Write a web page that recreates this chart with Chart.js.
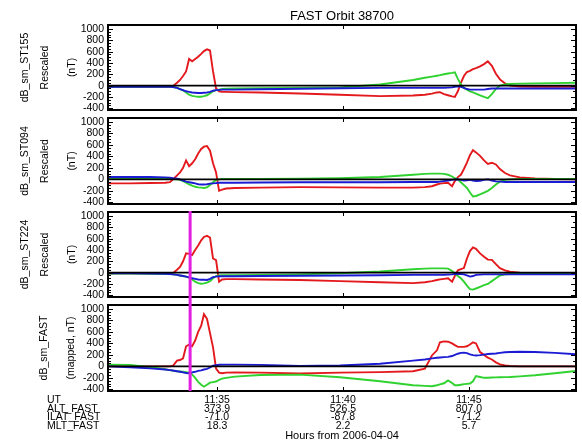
<!DOCTYPE html>
<html>
<head>
<meta charset="utf-8">
<title>FAST Orbit 38700</title>
<script src="https://cdn.jsdelivr.net/npm/chart.js@4.4.1/dist/chart.umd.min.js"></script>
<style>
    html, body { margin: 0; padding: 0; background: #fff; }
    #wrap { position: relative; width: 582px; height: 443px; overflow: hidden; }
    #wrap canvas { position: absolute; left: 0; top: 0; }
</style>
</head>
<body>
<div id="wrap">
    <canvas id="p1" width="582" height="443"></canvas>
    <canvas id="p2" width="582" height="443"></canvas>
    <canvas id="p3" width="582" height="443"></canvas>
    <canvas id="p4" width="582" height="443"></canvas>
</div>
<script>
// time, minutes after 11:30 UT
const tMin = [0.67, 1.55, 2.34, 2.94, 3.13, 3.25, 3.41, 3.53, 3.65, 3.77,
    3.89, 4.01, 4.13, 4.25, 4.37, 4.48, 4.60, 4.72, 4.84, 4.96,
    5.08, 5.20, 5.36, 5.71, 6.71, 8.29, 9.88, 11.47, 12.78, 13.25,
    13.53, 13.73, 13.85, 14.01, 14.17, 14.33, 14.44, 14.56, 14.68, 14.80,
    14.92, 15.04, 15.16, 15.28, 15.44, 15.60, 15.75, 15.91, 16.07, 16.23,
    16.43, 16.63, 17.02, 17.62, 18.41, 19.25];

// dB_sm_ST155
const red1 = [-20, -20, -25, -25, -20, -10, 50, 100, 170, 250, 470, 430, 470, 510, 560, 610, 640, 620, 250, -50,
    -100, -110, -110, -115, -120, -140, -160, -185, -175, -160, -140, -120, -115, -150, -170, -190, -200, -100, 50, 170,
    240, 260, 290, 310, 340, 380, 430, 350, 210, 110, 40, 0, -15, -20, -20, -20];
const green1 = [-20, -20, -20, -20, -20, -25, -40, -60, -85, -120, -160, -180, -190, -195, -195, -185, -170, -140, -100, -80,
    -70, -60, -55, -50, -45, -40, -30, 20, 100, 140, 160, 175, 185, 200, 215, 225, 235, 120, 20, -40,
    -70, -100, -120, -140, -170, -200, -220, -150, -60, 0, 20, 30, 35, 40, 45, 50];
const blue1 = [-20, -20, -20, -20, -20, -25, -40, -60, -80, -100, -110, -120, -125, -130, -130, -125, -120, -110, -90, -80,
    -75, -70, -70, -70, -65, -55, -45, -40, -40, -40, -40, -40, -40, -40, -35, -30, -20, -10, -20, -40,
    -60, -70, -70, -70, -70, -70, -60, -50, -50, -50, -50, -50, -50, -50, -50, -50];

// dB_sm_ST094
const red2 = [-70, -70, -65, -60, -50, 0, 70, 120, 200, 330, 230, 280, 350, 450, 530, 570, 580, 500, 280, 120,
    -200, -180, -160, -150, -145, -135, -140, -145, -145, -135, -120, -90, -75, -65, -60, -120, -30, 40, 80, 180,
    290, 420, 510, 470, 410, 330, 270, 290, 260, 180, 110, 70, 35, 15, 5, 0];
const green2 = [20, 20, 15, 10, 10, 5, 0, -10, -30, -60, -90, -110, -130, -140, -145, -150, -140, -100, -50, -10,
    0, 5, 5, 5, 5, 10, 20, 40, 80, 95, 100, 100, 100, 95, 80, 50, 20, 0, -50, -100,
    -150, -230, -300, -290, -260, -230, -200, -150, -90, -40, -10, 0, 5, 5, 5, 5];
const blue2 = [40, 40, 40, 35, 30, 20, 10, 0, -20, -40, -50, -60, -70, -85, -90, -90, -85, -75, -70, -65,
    -60, -60, -60, -60, -55, -50, -50, -50, -45, -45, -45, -45, -40, -30, -20, -10, -5, 0, -10, -20,
    -15, -10, -20, -30, -25, -10, 0, -20, -35, -40, -45, -45, -45, -45, -45, -45];

// dB_sm_ST224
const red3 = [-10, -10, -15, -20, -20, -10, 50, 100, 200, 340, 330, 310, 400, 480, 570, 630, 650, 620, 250, 220,
    -160, -120, -115, -115, -120, -130, -150, -170, -185, -170, -150, -130, -120, -110, -100, -160, -60, 40, 60, 80,
    250, 380, 445, 420, 340, 280, 230, 225, 150, 80, 40, 15, 0, -5, -10, -10];
const green3 = [-15, -15, -20, -25, -25, -30, -40, -50, -60, -70, -90, -120, -160, -185, -195, -190, -175, -150, -100, -60,
    -50, -45, -45, -45, -40, -30, -10, 20, 60, 70, 75, 75, 75, 75, 70, 30, -20, -60, -100, -160,
    -230, -290, -300, -280, -250, -220, -200, -150, -100, -50, -30, -25, -25, -25, -25, -25];
const blue3 = [-10, -10, -15, -20, -25, -30, -40, -50, -60, -70, -85, -100, -110, -120, -125, -125, -130, -110, -80, -70,
    -65, -65, -65, -65, -60, -55, -50, -45, -40, -40, -40, -40, -40, -40, -35, -30, -25, -20, -25, -30,
    -50, -70, -60, -40, -35, -30, -30, -30, -30, -30, -30, -30, -30, -30, -30, -30];

// dB_sm_FAST (mapped)
const red4 = [0, 0, 0, 0, 0, 10, 100, 110, 140, 350, 380, 350, 450, 600, 710, 910, 830, 580, 330, -40,
    -110, -120, -110, -105, -110, -125, -110, -100, -85, -40, 190, 280, 420, 435, 430, 400, 370, 340, 340, 340,
    350, 380, 420, 400, 250, 200, 150, 120, 70, 35, 15, 5, 0, 0, 0, 0];
const green4 = [30, 25, -15, -50, -65, -76, -85, -90, -95, -100, -110, -140, -200, -270, -320, -355, -320, -285, -275, -265,
    -235, -215, -200, -180, -150, -145, -190, -260, -330, -340, -348, -330, -315, -295, -245, -290, -330, -330, -320, -310,
    -305, -300, -260, -170, -185, -200, -200, -195, -192, -190, -188, -186, -175, -155, -120, -82];
const blue4 = [0, -15, -35, -55, -65, -72, -85, -95, -105, -115, -120, -105, -95, -80, -70, -55, -45, -20, 10, 20,
    28, 30, 30, 30, 25, 5, 15, 45, 100, 120, 140, 150, 155, 160, 165, 180, 200, 220, 235, 240,
    230, 210, 195, 190, 195, 205, 215, 220, 225, 235, 245, 250, 255, 250, 235, 210];

// axis ticks and labels
const yTicks = [-400, -200, 0, 200, 400, 600, 800, 1000];
const utTicks = [5, 10, 15];
const utLabels = ['11:35', '11:40', '11:45'];
const altLabels = ['373.9', '526.5', '807.0'];
const ilatLabels = ['-71.0', '-87.8', '-71.2'];
const mltLabels = ['18.3', '2.2', '5.7'];
const rowNames = ['UT', 'ALT_FAST', 'ILAT_FAST', 'MLT_FAST'];
const markerTime = 3.93;

const RED = '#e3191d';
const GREEN = '#2fd22f';
const BLUE = '#1b1bd4';
const MAGENTA = '#e21fe2';
const FONT = "'Liberation Sans', Arial, Helvetica, sans-serif";

Chart.defaults.font.family = FONT;
Chart.defaults.font.size = 10.5;
Chart.defaults.color = '#000';

const H = 443;
const bandTop = [25, 118, 212, 305];
const bandBottom = [110, 204, 297, 391];

const panels = [
    { id: 'p1', red: red1, green: green1, blue: blue1, names: ['dB_sm_ST155', 'Rescaled', '(nT)'], nameX: [25, 45.5, 72] },
    { id: 'p2', red: red2, green: green2, blue: blue2, names: ['dB_sm_ST094', 'Rescaled', '(nT)'], nameX: [25, 45.5, 72] },
    { id: 'p3', red: red3, green: green3, blue: blue3, names: ['dB_sm_ST224', 'Rescaled', '(nT)'], nameX: [25, 45.5, 72] },
    { id: 'p4', red: red4, green: green4, blue: blue4, names: ['dB_sm_FAST', '(mapped, nT)'], nameX: [44.5, 71.5] }
];

function pts(vals) {
    return vals.map((v, i) => ({ x: tMin[i], y: v }));
}

// box, zero line and inward tick marks
const framePlugin = {
    id: 'frame',
    afterDatasetsDraw(chart) {
        const { ctx, chartArea: a } = chart;
        const x = chart.scales.x, y = chart.scales.y;
        ctx.save();
        ctx.strokeStyle = '#000';
        ctx.lineWidth = 1.8;
        const y0 = y.getPixelForValue(0);
        ctx.beginPath(); ctx.moveTo(a.left, y0); ctx.lineTo(a.right, y0); ctx.stroke();

        ctx.lineWidth = 1;
        for (let v = -400; v <= 1000; v += 50) {
            const py = Math.round(y.getPixelForValue(v)) + 0.5;
            const major = v % 200 === 0;
            ctx.beginPath(); ctx.moveTo(a.left, py); ctx.lineTo(a.left + (major ? 5 : 3), py); ctx.stroke();
            if (v % 100 === 0) {
                ctx.beginPath(); ctx.moveTo(a.right, py); ctx.lineTo(a.right - (major ? 5 : 3), py); ctx.stroke();
            }
        }
        utTicks.forEach(t => {
            const px = Math.round(x.getPixelForValue(t)) + 0.5;
            ctx.beginPath(); ctx.moveTo(px, a.top); ctx.lineTo(px, a.top + 4); ctx.stroke();
            ctx.beginPath(); ctx.moveTo(px, a.bottom); ctx.lineTo(px, a.bottom - 4); ctx.stroke();
        });

        ctx.lineWidth = 2;
        ctx.strokeRect(a.left, a.top, a.right - a.left, a.bottom - a.top);
        ctx.restore();
    }
};

// magenta time marker
const markerPlugin = {
    id: 'marker',
    afterDraw(chart, args, opts) {
        if (!opts.show) return;
        const { ctx, chartArea: a } = chart;
        const px = chart.scales.x.getPixelForValue(markerTime);
        ctx.save();
        ctx.strokeStyle = MAGENTA;
        ctx.lineWidth = 3;
        ctx.beginPath();
        ctx.moveTo(px, a.top - 1);
        ctx.lineTo(px, a.bottom + opts.extend);
        ctx.stroke();
        ctx.restore();
    }
};

// rotated panel names on the left
const namesPlugin = {
    id: 'names',
    afterDraw(chart, args, opts) {
        const { ctx, chartArea: a } = chart;
        const cy = (a.top + a.bottom) / 2;
        ctx.save();
        ctx.fillStyle = '#000';
        ctx.font = '10.5px ' + FONT;
        ctx.textAlign = 'center';
        ctx.textBaseline = 'middle';
        opts.lines.forEach((txt, i) => {
            ctx.save();
            ctx.translate(opts.xs[i], cy);
            ctx.rotate(-Math.PI / 2);
            ctx.fillText(txt, 0, 0);
            ctx.restore();
        });
        ctx.restore();
    }
};

// row names under the last panel
const rowPlugin = {
    id: 'rows',
    afterDraw(chart, args, opts) {
        if (!opts.show) return;
        const { ctx } = chart;
        const x = chart.scales.x;
        const f = x.options.ticks.font;
        const lh = f.size * f.lineHeight;
        ctx.save();
        ctx.fillStyle = '#000';
        ctx.font = f.size + 'px ' + FONT;
        ctx.textAlign = 'left';
        ctx.textBaseline = 'middle';
        rowNames.forEach((txt, i) => {
            ctx.fillText(txt, 47, x.top + x.options.ticks.padding + lh * (i + 0.5));
        });
        ctx.restore();
    }
};

panels.forEach((p, i) => {
    const last = i === panels.length - 1;
    new Chart(document.getElementById(p.id), {
        type: 'line',
        data: {
            datasets: [
                { label: 'blue', data: pts(p.blue), borderColor: BLUE },
                { label: 'green', data: pts(p.green), borderColor: GREEN },
                { label: 'red', data: pts(p.red), borderColor: RED }
            ]
        },
        options: {
            responsive: false,
            animation: false,
            events: [],
            layout: {
                padding: {
                    left: 0,
                    right: 6,
                    top: i === 0 ? 0 : bandTop[i],
                    bottom: last ? 0 : H - bandBottom[i]
                }
            },
            elements: {
                point: { radius: 0 },
                line: { borderWidth: 1.9, tension: 0, fill: false }
            },
            scales: {
                x: {
                    type: 'linear',
                    min: 0.67,
                    max: 19.25,
                    display: last,
                    afterBuildTicks: s => { s.ticks = utTicks.map(v => ({ value: v })); },
                    afterFit: s => { if (last) s.height = H - bandBottom[i]; },
                    grid: { display: false, drawTicks: false },
                    border: { display: false },
                    ticks: {
                        autoSkip: false,
                        maxRotation: 0,
                        padding: 4.6,
                        font: { size: 10.5, lineHeight: 0.83 },
                        callback: (v, k) => [utLabels[k], altLabels[k], ilatLabels[k], mltLabels[k]]
                    },
                    title: {
                        display: true,
                        text: 'Hours from 2006-04-04',
                        padding: 0,
                        font: { size: 11 }
                    }
                },
                y: {
                    min: -430,
                    max: 1070,
                    afterBuildTicks: s => { s.ticks = yTicks.map(v => ({ value: v })); },
                    afterFit: s => { s.width = 108; },
                    grid: { display: false, drawTicks: false },
                    border: { display: false },
                    ticks: { autoSkip: false, padding: 4, font: { size: 10.5 }, callback: v => String(v) }
                }
            },
            plugins: {
                legend: { display: false },
                tooltip: { enabled: false },
                title: {
                    display: i === 0,
                    text: 'FAST Orbit 38700',
                    fullSize: false,
                    color: '#000',
                    font: { size: 13, weight: 'normal' },
                    padding: { top: 9, bottom: 0.4 }
                },
                marker: { show: i >= 2, extend: i === 2 ? bandTop[3] - bandBottom[2] : 0 },
                names: { lines: p.names, xs: p.nameX },
                rows: { show: last }
            }
        },
        plugins: [framePlugin, markerPlugin, namesPlugin, rowPlugin]
    });
});
</script>
</body>
</html>
